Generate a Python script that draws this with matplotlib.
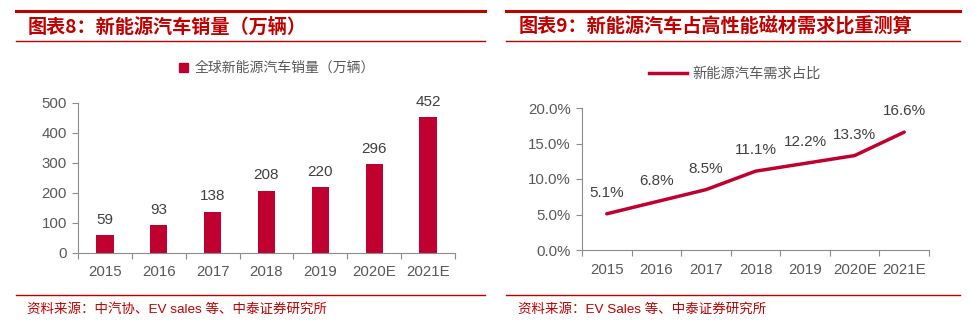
import matplotlib
matplotlib.use("Agg")
import matplotlib.pyplot as plt
from matplotlib.lines import Line2D
from matplotlib.patches import Patch
from matplotlib.ticker import FuncFormatter

plt.rcParams['font.family'] = ['Liberation Sans', 'Noto Sans CJK SC', 'DejaVu Sans']

years = ["2015", "2016", "2017", "2018", "2019", "2020E", "2021E"]
sales = [59, 93, 138, 208, 220, 296, 452]
share = [5.1, 6.8, 8.5, 11.1, 12.2, 13.3, 16.6]

RED = "#C0002F"
TITLE_RED = "#C00000"
GREY = "#595959"
AXIS = "#8C8C8C"
CJK = ['Noto Sans CJK SC', 'DejaVu Sans']

W, H = 973, 322
fig = plt.figure(figsize=(W / 100, H / 100), dpi=100)


def fx(px):
    return px / W


def fy(py):
    return 1 - py / H


def frame(x0, x1, title, source, tx):
    fig.add_artist(Line2D([fx(x0), fx(x1)], [fy(11), fy(11)], color=TITLE_RED, lw=2.2))
    fig.add_artist(Line2D([fx(x0), fx(x1)], [fy(41), fy(41)], color=TITLE_RED, lw=1.0))
    fig.add_artist(Line2D([fx(x0), fx(x1)], [fy(295), fy(295)], color=TITLE_RED, lw=1.0))
    fig.text(fx(tx), fy(27), title, color=TITLE_RED, fontsize=13.8, fontweight='bold',
             family=CJK, va='center', ha='left')
    fig.text(fx(tx - 1), fy(309), source, color=TITLE_RED, fontsize=9.7,
             family=['Liberation Sans', 'Noto Sans CJK SC'], va='center', ha='left')


def style_axes(ax):
    for s in ['top', 'right']:
        ax.spines[s].set_visible(False)
    for s in ['left', 'bottom']:
        ax.spines[s].set_color(AXIS)
        ax.spines[s].set_linewidth(0.8)
    ax.set_xlim(-0.5, len(years) - 0.5)
    ax.set_xticks(range(len(years)))
    ax.set_xticklabels(years)
    ax.set_xticks([i - 0.5 for i in range(len(years) + 1)], minor=True)
    ax.tick_params(axis='x', which='major', length=0, pad=9, labelsize=10.8, labelcolor=GREY)
    ax.tick_params(axis='x', which='minor', length=4, color=AXIS, width=0.8)
    ax.tick_params(axis='y', length=4, color=AXIS, width=0.8, labelsize=10.8, labelcolor=GREY, pad=4)


# left: bar chart
frame(16, 485, "图表8：新能源汽车销量（万辆）", "资料来源：中汽协、EV sales 等、中泰证券研究所", 28)
ax1 = fig.add_axes([fx(78), fy(253), fx(455) - fx(78), fy(103) - fy(253)])
ax1.bar(range(len(years)), sales, width=0.32, color=RED)
ax1.set_ylim(0, 500)
ax1.set_yticks(range(0, 501, 100))
style_axes(ax1)
for i, v in enumerate(sales):
    ax1.annotate(str(v), (i, v), xytext=(0, 6), textcoords='offset points',
                 ha='center', va='bottom', fontsize=11, color='#404040')
fig.legend(handles=[Patch(color=RED, label="全球新能源汽车销量（万辆）")],
           loc='center', bbox_to_anchor=(fx(277), fy(68)), frameon=False,
           handlelength=0.6, handleheight=0.6, handletextpad=0.5,
           prop={'family': CJK, 'size': 10}, labelcolor=GREY)

# right: line chart
frame(506, 960, "图表9：新能源汽车占高性能磁材需求比重测算", "资料来源：EV Sales 等、中泰证券研究所", 519)
ax2 = fig.add_axes([fx(582), fy(250), fx(929) - fx(582), fy(108) - fy(250)])
ax2.plot(range(len(years)), share, color=RED, lw=2.5, solid_capstyle='round')
ax2.set_ylim(0, 20)
ax2.set_yticks([0, 5, 10, 15, 20])
ax2.yaxis.set_major_formatter(FuncFormatter(lambda v, p: f"{v:.1f}%"))
style_axes(ax2)
for i, v in enumerate(share):
    ax2.annotate(f"{v:.1f}%", (i, v), xytext=(0, 10), textcoords='offset points',
                 ha='center', va='bottom', fontsize=11, color='#404040')
fig.legend(handles=[Line2D([], [], color=RED, lw=2.5, label="新能源汽车需求占比")],
           loc='center', bbox_to_anchor=(fx(735), fy(74)), frameon=False,
           handlelength=2.6, handletextpad=0.4,
           prop={'family': CJK, 'size': 10.3}, labelcolor=GREY)

fig.savefig("out.png", dpi=100)
